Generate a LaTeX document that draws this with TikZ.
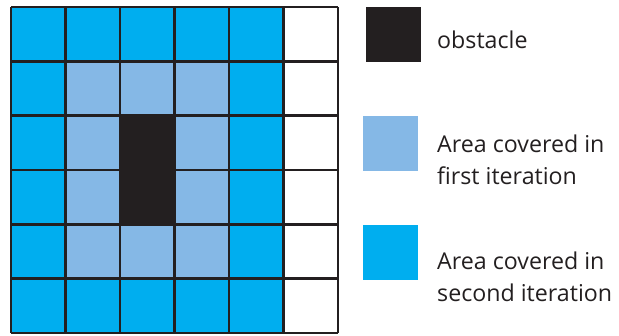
\documentclass[tikz,border=0pt]{standalone}
\usepackage{fontspec}
\setmainfont{Open Sans}
\definecolor{obst}{HTML}{231F20}
\definecolor{lightb}{HTML}{85B8E6}
\definecolor{darkb}{HTML}{00AEEF}
\begin{document}
\begin{tikzpicture}[x=1pt,y=-1pt,
  gridline/.style={draw=obst,line width=2.6pt},
  legbox/.style={minimum width=55pt,minimum height=55pt,inner sep=0pt,anchor=north west},
  legtext/.style={anchor=base west,font=\fontsize{23.2}{32}\selectfont,text=obst,align=left,inner sep=0pt}]
\useasboundingbox (0,0) rectangle (619,335);
% cells: dark blue columns 1-5
\fill[darkb] (11,7) rectangle (283.5,333);
\fill[lightb] (65.5,61.3) rectangle (229,278.7);
% grid lines
\foreach \i in {0,...,6} {
  \draw[gridline] ({11+54.5*\i},7) -- ({11+54.5*\i},333);
  \draw[gridline] (11,{7+54.33*\i}) -- (338,{7+54.33*\i});
}
\fill[obst] (120,115.6) rectangle (174.5,224.4);
% legend
\node[legbox,fill=obst] (lo) at (366,7) {};
\node[legtext] (to) at (437,48) {obstacle};
\node[legbox,fill=lightb] (l1) at (363,116) {};
\node[legtext] (t1) at (437,184) {Area covered in\\first iteration};
\node[legbox,fill=darkb] (l2) at (363,225) {};
\node[legtext] (t2) at (437,301) {Area covered in\\second iteration};
\end{tikzpicture}
\end{document}
